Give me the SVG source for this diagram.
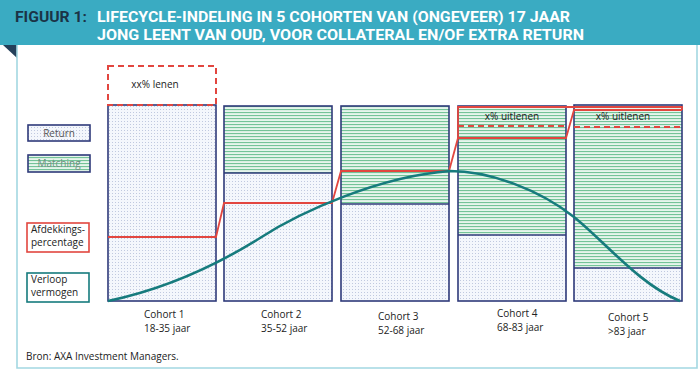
<svg xmlns="http://www.w3.org/2000/svg" width="700" height="370" viewBox="0 0 700 370">
<defs>
<pattern id="dots" width="3" height="3" patternUnits="userSpaceOnUse">
<rect width="3" height="3" fill="#f4f7fc"/>
<rect x="1" y="1" width="0.8" height="0.8" fill="#a3afcf"/>
</pattern>
<pattern id="stripes" width="4" height="3" patternUnits="userSpaceOnUse">
<rect width="4" height="3" fill="#e6f5ec"/>
<rect y="1" width="4" height="1.1" fill="#74c398"/>
</pattern>
<style>
.hdr{font-family:Roboto,"Liberation Sans",sans-serif;font-weight:bold;font-size:15px}
.t{font-family:"Open Sans","Liberation Sans",sans-serif;font-size:10px;fill:#222}
.lg{font-family:"Open Sans","Liberation Sans",sans-serif;font-size:10px}
.box{stroke:#2f3a7a;stroke-width:1.6}
.ret{fill:url(#dots)}
.mat{fill:url(#stripes)}
.red{fill:none;stroke:#e2463f;stroke-width:1.8}
.dash{fill:none;stroke:#e2463f;stroke-width:2;stroke-dasharray:6 4}
</style>
</defs>
<rect width="700" height="370" fill="#ffffff"/>
<rect x="0" y="0" width="700" height="45" fill="#3aabc2"/>
<polygon points="3,45 17,45 17,58" fill="#24405a"/>
<path d="M17,45 V368 H697 V45" fill="none" stroke="#a3d8e2" stroke-width="1.6"/>
<text class="hdr" x="15" y="22" fill="#1b3346" textLength="72" lengthAdjust="spacingAndGlyphs">FIGUUR 1:</text>
<text class="hdr" x="97" y="22" fill="#ffffff" textLength="473" lengthAdjust="spacingAndGlyphs">LIFECYCLE-INDELING IN 5 COHORTEN VAN (ONGEVEER) 17 JAAR</text>
<text class="hdr" x="97" y="40" fill="#ffffff" textLength="487" lengthAdjust="spacingAndGlyphs">JONG LEENT VAN OUD, VOOR COLLATERAL EN/OF EXTRA RETURN</text>

<g id="legend-return">
<rect x="28" y="125" width="62" height="16" class="box ret"/>
<text class="lg" x="59" y="137" text-anchor="middle" fill="#555">Return</text>
</g>
<g id="legend-matching">
<rect x="28" y="155" width="62" height="17" class="box mat"/>
<text class="lg" x="59" y="167" text-anchor="middle" fill="#6f8f80">Matching</text>
</g>
<g id="legend-afdekking">
<rect x="27" y="223" width="62" height="29" fill="#fff" stroke="#e2463f" stroke-width="1.6"/>
<text class="lg" x="31" y="233" fill="#222">Afdekkings-</text>
<text class="lg" x="31" y="246" fill="#222">percentage</text>
</g>
<g id="legend-verloop">
<rect x="27" y="273" width="62" height="29" fill="#fff" stroke="#167b7d" stroke-width="1.6"/>
<text class="lg" x="31" y="283" fill="#222">Verloop</text>
<text class="lg" x="31" y="296" fill="#222">vermogen</text>
</g>

<g id="cohort1">
<rect x="108" y="105" width="108" height="196" class="box ret"/>
<rect x="108" y="66" width="108" height="39" class="dash"/>
<text class="t" x="155" y="88" text-anchor="middle">xx% lenen</text>
<text class="t" x="144" y="318">Cohort 1</text>
<text class="t" x="144" y="332">18-35 jaar</text>
</g>
<g id="cohort2">
<rect x="224" y="173" width="108" height="128" class="ret"/>
<rect x="224" y="106" width="108" height="67" class="mat"/>
<rect x="224" y="106" width="108" height="195" class="box" fill="none"/>
<line x1="224" y1="173" x2="332" y2="173" class="box"/>
<text class="t" x="261" y="318">Cohort 2</text>
<text class="t" x="261" y="332">35-52 jaar</text>
</g>
<g id="cohort3">
<rect x="341" y="204" width="108" height="97" class="ret"/>
<rect x="341" y="106" width="108" height="98" class="mat"/>
<rect x="341" y="106" width="108" height="195" class="box" fill="none"/>
<line x1="341" y1="204" x2="449" y2="204" class="box"/>
<text class="t" x="378" y="320">Cohort 3</text>
<text class="t" x="378" y="334">52-68 jaar</text>
</g>
<g id="cohort4">
<rect x="458" y="235" width="108" height="66" class="ret"/>
<rect x="458" y="106" width="108" height="129" class="mat"/>
<rect x="458" y="106" width="108" height="195" class="box" fill="none"/>
<line x1="458" y1="235" x2="566" y2="235" class="box"/>
<text class="t" x="512" y="120" text-anchor="middle">x% uitlenen</text>
<text class="t" x="497" y="317">Cohort 4</text>
<text class="t" x="497" y="331">68-83 jaar</text>
</g>
<g id="cohort5">
<rect x="574" y="268" width="108" height="33" class="ret"/>
<rect x="574" y="105" width="108" height="163" class="mat"/>
<rect x="574" y="105" width="108" height="196" class="box" fill="none"/>
<line x1="574" y1="268" x2="682" y2="268" class="box"/>
<text class="t" x="623" y="120" text-anchor="middle">x% uitlenen</text>
<text class="t" x="608" y="321">Cohort 5</text>
<text class="t" x="608" y="335">&gt;83 jaar</text>
</g>

<g id="connectors">
<path class="red" d="M108,237 H216 L224,203 H332 L341,171 H449 L458,138 H566 L574,110 H682"/>
<path class="red" d="M458,138 V107 H682 V110"/>
<path class="dash" d="M458,126 H566 M574,127 H682"/>
<path d="M108,301 C170,288 220,263 260,238 C300,212 380,176 450,171 C490,171 540,190 574,217 C605,242 640,285 680,301" fill="none" stroke="#167b7d" stroke-width="2.6"/>
</g>
<text class="t" x="26" y="360" fill="#444">Bron: AXA Investment Managers.</text>
</svg>
